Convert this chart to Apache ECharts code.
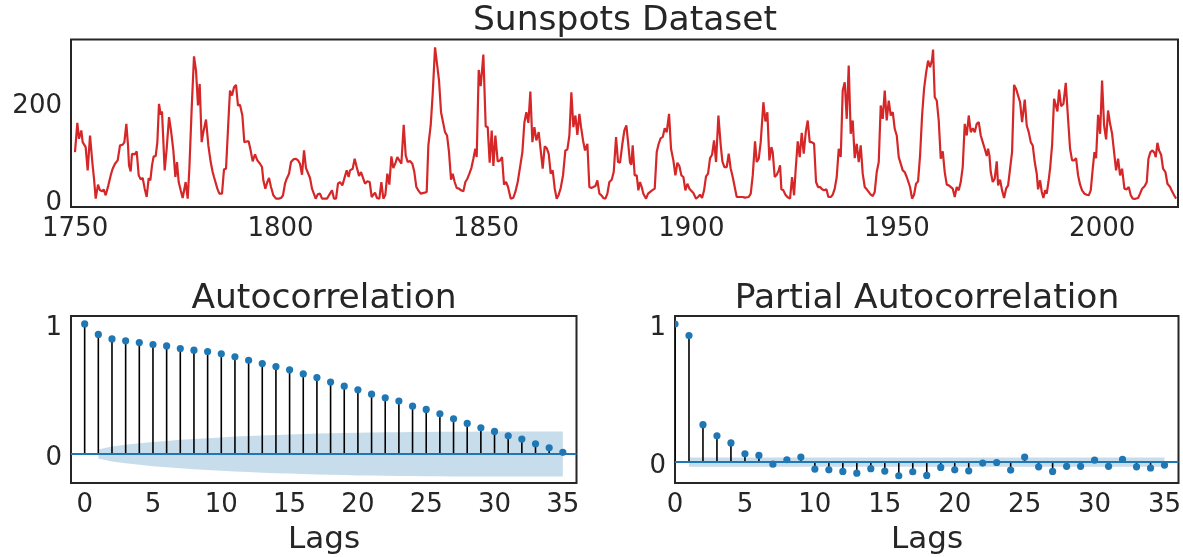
<!DOCTYPE html>
<html><head><meta charset="utf-8">
<script src="https://cdn.jsdelivr.net/npm/echarts@6/dist/echarts.min.js"></script>
<style>html,body{margin:0;padding:0;background:#fff}#c{width:1183px;height:557px}</style>
</head><body><div id="c"></div>
<script>
// ---- Sunspots series (year, value) ----
const sunYears = [
1749.97,1750.54,1750.95,1751.51,1751.84,1752.25,1752.57,1753.06,1753.63,1754.19,1754.60,1755.01,1755.57,1756.06,1756.63,1756.95,1757.44,1758.09,1758.66,1759.14,1759.71,1760.36,1760.93,1761.58,1761.99,1762.47,1762.88,1763.12,1763.53,1763.85,1764.50,1764.99,1765.48,1765.96,1766.45,1766.94,1767.42,1767.91,1768.31,1768.72,1769.12,1769.61,1770.02,1770.42,1770.83,1771.15,1771.48,1771.80,1772.29,1772.86,1773.34,1773.91,1774.40,1774.80,1775.21,1775.70,1776.18,1776.59,1776.91,1777.40,1777.81,1778.37,1778.94,1779.43,1779.91,1780.32,
1780.81,1781.21,1781.86,1782.43,1783.00,1783.48,1783.81,1784.21,1784.62,1785.11,1785.76,1786.24,1786.73,1787.22,1787.70,1788.19,1788.68,1789.16,1789.65,1790.14,1790.71,1791.19,1791.76,1792.25,1792.73,1793.22,1793.79,1794.36,1795.01,1795.49,1795.82,1796.30,1796.79,1797.20,1797.68,1798.25,1798.90,1799.55,1800.12,1800.60,1801.09,1801.50,1802.07,1802.55,1803.12,1803.69,1804.26,1804.74,1805.23,1805.72,1806.20,1806.61,1807.18,1807.66,1808.07,1808.56,1809.04,1809.61,1810.10,1810.75,1811.32,1811.88,1812.53,1813.02,1813.51,1813.99,1814.48,1815.05,1815.53,1816.10,1816.59,1816.91,
1817.56,1818.05,1818.54,1819.11,1819.59,1820.00,1820.57,1821.13,1821.70,1822.19,1822.59,1823.00,1823.49,1824.05,1824.54,1825.03,1825.52,1826.00,1826.49,1826.98,1827.46,1827.95,1828.44,1828.92,1829.41,1829.98,1830.47,1830.95,1831.52,1832.09,1832.57,1833.06,1833.55,1834.12,1834.60,1835.09,1835.58,1835.98,1836.55,1837.04,1837.61,1838.09,1838.58,1839.07,1839.55,1840.04,1840.53,1841.01,1841.50,1841.91,1842.39,1842.88,1843.45,1843.94,1844.50,1844.99,1845.48,1845.96,1846.45,1846.94,1847.42,1847.75,1848.24,1848.72,1849.37,
1849.94,1850.43,1850.91,1851.40,1851.81,1852.29,1852.86,1853.43,1853.92,1854.40,1854.89,1855.38,1856.03,1856.67,1857.16,1857.73,1858.30,1858.87,1859.35,1859.84,1860.33,1860.81,1861.30,1861.79,1862.27,1862.84,1863.33,1863.81,1864.30,1864.79,1865.28,1865.76,1866.25,1866.74,1867.22,1867.71,1868.20,1868.76,1869.33,1869.82,1870.31,1870.79,1871.28,1871.77,1872.25,1872.74,1873.15,1873.63,1874.12,1874.69,1875.17,1875.66,1876.15,1876.64,1877.12,1877.61,1878.10,1878.58,1879.07,1879.56,1880.04,1880.61,1881.10,1881.67,1882.15,1882.64,1883.21,1883.69,1884.18,
1884.67,1885.07,1885.40,1885.72,1886.21,1886.70,1887.10,1887.51,1887.91,1888.32,1888.97,1889.46,1889.94,1890.43,1891.08,1891.57,1892.05,1892.54,1893.03,1893.51,1894.00,1894.57,1895.05,1895.62,1896.11,1896.60,1897.08,1897.57,1898.06,1898.54,1899.03,1899.52,1900.00,1900.49,1901.14,1901.63,1902.11,1902.60,1903.09,1903.57,1904.06,1904.55,1905.04,1905.52,1906.01,1906.58,1907.15,1907.55,1908.04,1908.61,1909.09,1909.58,1910.07,1910.55,1911.04,1911.53,1912.01,1912.50,1912.99,1913.47,1913.96,1914.45,1914.94,1915.50,1915.91,1916.40,1916.88,1917.53,1918.02,1918.50,1918.99,
1919.48,1919.80,1920.29,1920.78,1921.26,1921.59,1921.91,1922.40,1922.89,1923.37,1924.02,1924.51,1925.00,1925.40,1925.89,1926.38,1926.86,1927.35,1927.84,1928.32,1928.81,1929.30,1929.87,1930.35,1930.84,1931.33,1931.81,1932.30,1932.87,1933.35,1933.92,1934.41,1934.90,1935.38,1935.87,1936.36,1936.84,1937.33,1937.82,1938.30,1938.79,1939.28,1939.76,1940.25,1940.74,1941.22,1941.71,1942.20,1942.69,1943.17,1943.66,1944.15,1944.63,1945.12,1945.61,1946.09,1946.58,1947.07,1947.55,1948.04,1948.53,1949.02,1949.50,1949.99,1950.48,1950.96,1951.45,1951.94,1952.42,
1953.23,1953.72,1954.21,1954.69,1955.18,1955.67,1956.16,1956.64,1957.13,1957.62,1958.10,1958.59,1958.83,1959.24,1959.73,1960.21,1960.70,1961.19,1961.67,1962.16,1962.65,1963.13,1963.62,1964.11,1964.59,1965.08,1965.57,1966.05,1966.54,1967.03,1967.52,1968.00,1968.49,1968.98,1969.46,1969.95,1970.44,1970.92,1971.41,1971.90,1972.22,1972.55,1972.87,1973.36,1973.84,1974.33,1974.66,1975.14,1975.63,1976.12,1976.60,1977.09,1977.58,1978.06,1978.55,1979.04,1979.52,1980.01,1980.50,1981.15,1981.63,1982.12,1982.61,1983.09,1983.58,1984.07,1984.39,1984.88,
1985.29,1985.69,1986.10,1986.50,1986.91,1987.31,1987.80,1988.29,1988.61,1989.10,1989.51,1989.99,1990.56,1991.13,1991.61,1992.18,1992.67,1993.16,1993.64,1994.13,1994.62,1995.10,1995.67,1996.24,1996.73,1997.21,1997.70,1998.11,1998.51,1999.00,1999.49,1999.97,2000.46,2000.95,2001.43,2001.92,2002.41,2002.89,2003.38,2003.87,2004.35,2004.84,2005.41,2005.98,2006.46,2006.95,2007.44,2008.09,2008.74,2009.22,2009.71,2010.36,2010.85,2011.25,2011.74,2012.23,2012.71,2013.04,2013.44,2013.85,2014.34,2014.82,2015.39,2015.88,2016.53,2017.01,2017.50,2017.99
];
const sunValues = [
97.1,157.9,124.7,142.0,117.8,114.4,107.5,59.1,131.6,76.4,41.8,0.3,29.4,17.6,15.5,19.7,7.3,28,48.7,62.5,72.9,79.8,110.9,112.3,117.8,155.8,110.9,69.4,57,93.6,92.2,98.5,48.7,40.4,43.2,21.1,3.8,43.2,38.4,69.4,88.1,88.8,117.8,197.3,175.2,181.4,183.5,59.1,104,169.6,142,100.5,45.3,76.4,34.9,17.6,1.7,1.7,34.9,0.3,62.5,186.9,296.1,266.4,193.8,238.7,
117.8,138.5,164.8,110.9,76.4,55.6,45.3,48.7,21.1,10.7,10.7,61.2,62.5,145.5,224.9,214.6,231.8,236.7,193.8,195.2,173.1,117.8,119.2,119.2,100.5,77.7,92.2,79.8,72.9,66,38.4,21.1,34.9,43.2,24.5,7.3,0.3,0.3,1.7,7.3,31.4,41.8,52.2,76.4,81.9,83.3,79.8,72.9,50.1,100.5,63.9,63.9,43.2,21.1,19.7,0.3,9.3,10.7,0.3,0.3,0.3,8.6,17.6,0.3,0.3,31.4,34.9,28,31.4,59.1,45.3,59.1,
62.5,83.3,66,47.3,55.6,52.2,31.4,36.3,34.9,3.8,0.3,12.8,1.7,0.3,34.9,0.3,8.6,52.2,29.4,88.1,63.9,74.3,86.7,88.8,72.9,153.7,90.2,76.4,78.4,72.9,55.6,24.5,17.6,10.7,7.3,12.8,14.2,110.9,152.4,218,314.8,280.2,245.7,180,176.6,138.5,131.6,97.1,39.7,52.2,34.9,22.5,21.1,17.6,15.5,34.9,41.8,52.2,63.9,83.3,104,86.7,267.8,233.9,299.6,
150.3,148.9,75,142,68.1,131.6,77.7,79.8,86.7,29.4,34.9,24.5,0.3,2.4,14.2,34.9,66,97.1,157.9,180,157.9,222.8,117.8,148.9,121.3,138.5,100.5,62.5,108.8,105.4,93.6,52.2,59.1,21.1,0,8.6,22.5,48.7,100.5,102.6,131.6,221.4,148.9,173.1,133,176.6,148.9,121.3,100.5,114.4,24.5,22.5,24.5,26.6,38.4,10.7,7.3,1.7,0.3,10.7,34.9,39.7,55.6,128.2,76.4,75,114.4,142,152.4,
110.9,75,70.8,110.9,48.7,48.7,17.6,34.9,24.5,10.7,0.3,10.7,8.6,17.6,21.1,97.1,114.4,126.1,128.2,146.8,138.5,176.6,104,79.8,48.7,75,68.1,48.7,45.3,17.6,31.4,21.1,17.6,12.1,0.3,3.8,8.6,1.7,17.6,46.6,52.2,84.6,91.6,121.3,76.4,173.1,110.9,77.7,66,66,93.6,62.5,45.3,24.5,3.8,3.8,0.3,3.8,2.4,1.7,3.8,10.7,48.7,119.2,76.4,83.3,117.8,200.7,160.7,180,79.8,
107.5,97.1,45.3,50.1,59.1,69.4,19.7,17.6,8.6,3.8,0.3,45.3,7.3,62.5,119.2,86.7,137.2,93.6,138.5,162.7,117.8,117.8,114.4,34.9,24.5,24.5,19.7,17.6,19.7,3.8,3.8,8.6,21.1,45.3,104,86.7,224.9,242.2,166.2,276.8,135.1,162.7,84.6,114.4,76.4,110.9,52.2,24.5,19.7,19.7,8.6,5.9,14.2,55.6,76.4,193.8,166.2,224.9,162.7,204.2,173.1,180,145.5,131.6,86.7,84.6,59.1,55.6,45.3,
24.5,0.3,8.6,31.4,36.3,90.2,173.1,228.4,261.6,287.1,273.3,289.2,310,211.1,204.2,162.7,83.3,98.5,55.6,29.4,28,26.6,21.1,3.8,24.5,17.6,34.9,66,155.8,131.6,173.1,138.5,146.8,138.5,155.8,159.3,131.6,117.8,104,88.8,104,90.2,55.6,34.9,41.8,77.7,28,39.7,17.6,1.7,21.1,28,62.5,97.1,236.7,228.4,227,200.7,159.3,206.3,152.4,138.5,117.8,110.9,76.4,52.2,19.7,38.4,
14.2,1.7,17.6,10.7,34.9,62.5,110.9,207.7,211.1,181.4,227,192.4,197.3,240.8,176.6,104,79.8,79.8,84.6,48.7,29.4,17.6,10.7,8.6,7.3,17.6,62.5,97.1,84.6,174.5,135.1,245.7,152.4,123.4,183.5,155.8,135.1,131.6,59.1,83.3,48.7,62.5,21.1,19.7,24.5,7.3,0.3,0,1.7,10.7,21.1,26.6,34.9,83.3,97.1,100.5,95.7,86.7,116.4,100.5,91.6,62.5,55.6,31.4,24.5,15.5,7.3,0.3
];
const sunXTicks = [1750, 1800, 1850, 1900, 1950, 2000];
const sunYTicks = [0, 200];

// ---- ACF ----
const acfValues = [1.0,0.919,0.885,0.870,0.857,0.842,0.831,0.811,0.798,0.788,0.770,0.747,0.721,0.696,0.673,0.647,0.616,0.588,0.553,0.522,0.494,0.460,0.432,0.407,0.368,0.343,0.309,0.271,0.235,0.202,0.174,0.140,0.115,0.079,0.048,0.013];
// confidence half-width for lags 1..35
const acfBand = [0.034,0.057,0.071,0.083,0.093,0.101,0.109,0.116,0.122,0.128,0.134,0.139,0.143,0.147,0.150,0.154,0.157,0.159,0.162,0.164,0.165,0.167,0.168,0.169,0.170,0.171,0.172,0.172,0.173,0.173,0.173,0.173,0.173,0.173,0.173];

// ---- PACF ----
const pacfValues = [1.0,0.916,0.271,0.190,0.139,0.060,0.048,-0.015,0.017,0.036,-0.051,-0.056,-0.068,-0.080,-0.048,-0.065,-0.099,-0.070,-0.097,-0.039,-0.056,-0.063,-0.007,-0.003,-0.058,0.036,-0.034,-0.068,-0.031,-0.031,0.014,-0.031,0.019,-0.034,-0.043,-0.022];
const pacfBand = [0.034,0.034,0.034,0.034,0.034,0.034,0.034,0.034,0.034,0.034,0.034,0.034,0.034,0.034,0.034,0.034,0.034,0.034,0.034,0.034,0.034,0.034,0.034,0.034,0.034,0.034,0.034,0.034,0.034,0.034,0.034,0.034,0.034,0.034,0.034];
const lagTicks = [0, 5, 10, 15, 20, 25, 30, 35];
const corrYTicks = [0, 1];

const FONT = 'DejaVu Sans';
const TXT = '#262626';
const BLUE = '#1f77b4';
const TICK_FS = 26;

const chart = echarts.init(document.getElementById('c'), null, {renderer: 'canvas'});

function gridBox(left, top, width, height) {
  return {left, top, width, height, show: true, borderColor: TXT, borderWidth: 2,
          backgroundColor: 'transparent', containLabel: false, outerBoundsMode: 'none'};
}
function xAxisDef(gridIndex, min, max, ticks) {
  return {
    type: 'value', gridIndex, min, max, scale: true,
    axisLine: {show: false}, axisTick: {show: false}, splitLine: {show: false},
    axisLabel: {customValues: ticks, formatter: v => String(v), fontFamily: FONT, fontSize: TICK_FS, color: TXT, margin: 9}
  };
}
function yAxisDef(gridIndex, min, max, ticks) {
  return {
    type: 'value', gridIndex, min, max, scale: true,
    axisLine: {show: false}, axisTick: {show: false}, splitLine: {show: false},
    axisLabel: {customValues: ticks, formatter: v => '{t|' + v + '}', margin: 9,
                rich: {t: {fontFamily: FONT, fontSize: TICK_FS, color: TXT, padding: [8, 0, 0, 0]}}}
  };
}

function bandSeries(axisIdx, band) {
  const items = band.map((h, i) => [i + 1, h]);
  return {
    type: 'custom', xAxisIndex: axisIdx, yAxisIndex: axisIdx, z: 1, clip: true, silent: true,
    data: items,
    renderItem: function (params, api) {
      if (params.dataIndex !== 0) return null;
      const up = items.map(d => api.coord([d[0], d[1]]));
      const lo = items.slice().reverse().map(d => api.coord([d[0], -d[1]]));
      return {type: 'polygon', shape: {points: up.concat(lo)}, style: {fill: 'rgba(31,119,180,0.25)'}};
    },
    markLine: {
      silent: true, symbol: 'none', label: {show: false},
      lineStyle: {color: BLUE, width: 2, type: 'solid'},
      data: [{yAxis: 0}], animation: false
    }
  };
}
function stemSeries(axisIdx, values) {
  return {
    type: 'custom', xAxisIndex: axisIdx, yAxisIndex: axisIdx, z: 3, clip: true, silent: true,
    data: values.map((v, i) => [i, v]),
    renderItem: function (params, api) {
      const p0 = api.coord([api.value(0), 0]);
      const p1 = api.coord([api.value(0), api.value(1)]);
      return {type: 'group', children: [
        {type: 'line', shape: {x1: p0[0], y1: p0[1], x2: p1[0], y2: p1[1]}, style: {stroke: '#000', lineWidth: 1.6}},
        {type: 'circle', z2: 5, shape: {cx: p1[0], cy: p1[1], r: 3.6}, style: {fill: BLUE}}
      ]};
    }
  };
}
function label(text, x, y, fs) {
  return {type: 'text', x, y, style: {text, font: fs + 'px "DejaVu Sans"', fill: TXT,
          textAlign: 'center', textVerticalAlign: 'middle', align: 'center', verticalAlign: 'middle'}};
}

const option = {
  animation: false,
  backgroundColor: '#fff',
  textStyle: {fontFamily: FONT},
  grid: [
    gridBox(71, 39.5, 1107, 167.5),
    gridBox(71, 316, 505.5, 167),
    gridBox(675, 316, 503.5, 167)
  ],
  xAxis: [
    xAxisDef(0, 1749, 2018.45, sunXTicks),
    xAxisDef(1, -1, 36, lagTicks),
    xAxisDef(2, 0, 36, lagTicks)
  ],
  yAxis: [
    yAxisDef(0, -17, 331, sunYTicks),
    yAxisDef(1, -0.2226, 1.061, corrYTicks),
    yAxisDef(2, -0.1515, 1.058, corrYTicks)
  ],
  series: [
    {
      type: 'line', xAxisIndex: 0, yAxisIndex: 0, showSymbol: false, silent: true,
      data: sunYears.map((y, i) => [y, sunValues[i]]),
      lineStyle: {color: '#d62728', width: 2.2}, itemStyle: {color: '#d62728'}
    },
    bandSeries(1, acfBand),
    stemSeries(1, acfValues),
    bandSeries(2, pacfBand),
    stemSeries(2, pacfValues)
  ],
  graphic: [
    label('Sunspots Dataset', 625, 21, 34.5),
    label('Autocorrelation', 324, 299, 34.5),
    label('Partial Autocorrelation', 927, 299, 34.5),
    label('Lags', 324, 540, 31),
    label('Lags', 927, 540, 31)
  ]
};
chart.setOption(option);
</script>
</body></html>
